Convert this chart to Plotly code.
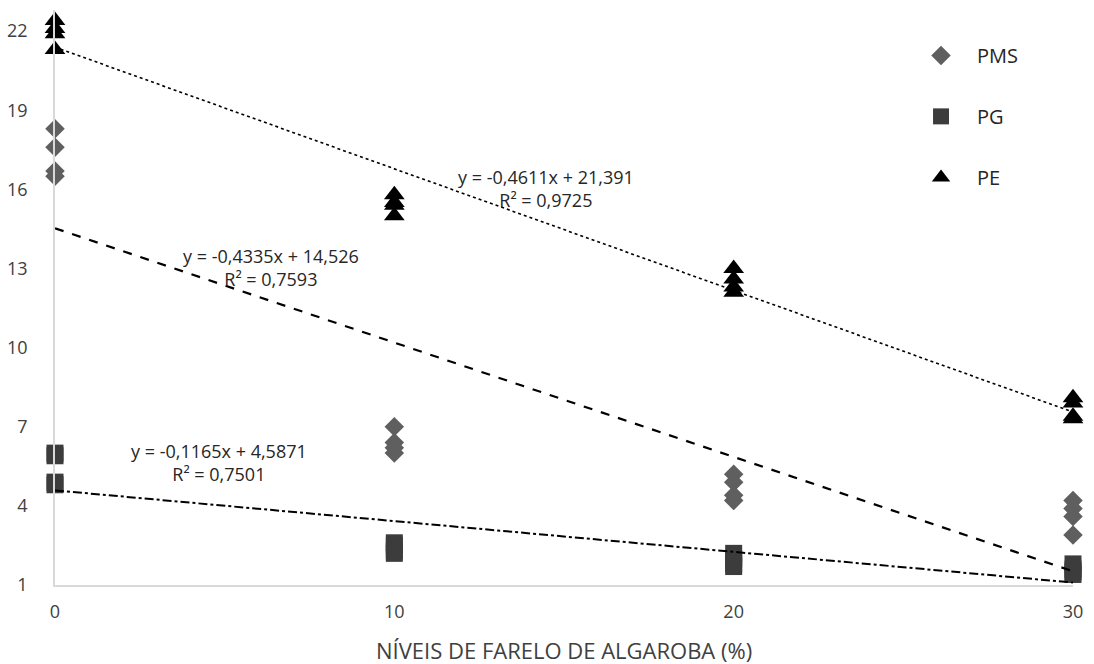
import plotly.graph_objects as go

# Farelo de algaroba inclusion levels (%) and replicate measurements
niveis = [0, 10, 20, 30]

pms = {
    0: [18.3, 17.6, 16.7, 16.5],
    10: [7.0, 6.4, 6.2, 6.0],
    20: [5.2, 4.9, 4.4, 4.2],
    30: [4.2, 3.9, 3.6, 2.9],
}
pg = {
    0: [6.0, 5.9, 4.9, 4.8],
    10: [2.6, 2.5, 2.3, 2.2],
    20: [2.2, 2.0, 1.8, 1.7],
    30: [1.8, 1.6, 1.5, 1.4],
}
pe = {
    0: [22.4, 22.1, 21.9, 21.3],
    10: [15.8, 15.5, 15.4, 15.0],
    20: [13.0, 12.6, 12.3, 12.1],
    30: [8.1, 7.9, 7.4, 7.3],
}

# Linear trend coefficients (slope, intercept, R²)
tend_pms = (-0.4335, 14.526, 0.7593)
tend_pg = (-0.1165, 4.5871, 0.7501)
tend_pe = (-0.4611, 21.391, 0.9725)

y_ticks = [1, 4, 7, 10, 13, 16, 19, 22]
x_ticks = [0, 10, 20, 30]

FONT = "Open Sans, sans-serif"


def flatten(d):
    xs, ys = [], []
    for k in niveis:
        for v in d[k]:
            xs.append(k)
            ys.append(v)
    return xs, ys


fig = go.Figure()

series = [
    ("PMS", pms, "diamond", "#5f5f5f", 15),
    ("PG", pg, "square", "#3c3c3c", 17),
    ("PE", pe, "triangle-up", "#000000", 18),
]
for i, (nome, dados, simb, cor, tam) in enumerate(series):
    xs, ys = flatten(dados)
    fig.add_trace(go.Scatter(
        x=xs, y=ys, mode="markers", name=nome,
        legendgroup=f"g{i}",
        marker=dict(symbol=simb, color=cor, size=tam, line=dict(width=0)),
        cliponaxis=False,
    ))

# Trend lines
for (a, b, _), dash, w in [(tend_pe, "dot", 1.6), (tend_pms, "dash", 2.2), (tend_pg, "dashdot", 2.0)]:
    fig.add_trace(go.Scatter(
        x=[niveis[0], niveis[-1]], y=[a * niveis[0] + b, a * niveis[-1] + b],
        mode="lines", showlegend=False, hoverinfo="skip",
        line=dict(color="#000000", dash=dash, width=w),
    ))


def fmt(v, nd):
    return f"{v:.{nd}f}".replace(".", ",")


def eq_text(a, b, r2, nb):
    return f"y = -{fmt(abs(a), 4)}x + {fmt(b, nb)}<br>R² = {fmt(r2, 4)}"


eq_font = dict(family=FONT, size=18, color="#262626")
for (a, b, r2), nb, (xa, ya) in [
    (tend_pe, 3, (14.47, 16.05)),
    (tend_pms, 3, (6.38, 13.02)),
    (tend_pg, 4, (4.82, 5.66)),
]:
    fig.add_annotation(
        x=xa, y=ya, text=eq_text(a, b, r2, nb), showarrow=False,
        font=eq_font, align="center", xanchor="center", yanchor="middle",
    )

# Axis title placed below the tick labels
fig.add_annotation(
    x=0.5, xref="paper", y=-0.113, yref="paper", yanchor="middle",
    text="NÍVEIS DE FARELO DE ALGAROBA (%)", showarrow=False,
    font=dict(family=FONT, size=22, color="#404040"),
)

fig.update_layout(
    width=1094, height=664,
    margin=dict(l=55, r=21, t=10, b=79),
    plot_bgcolor="white", paper_bgcolor="white",
    font=dict(family=FONT, color="#404040"),
    legend=dict(
        x=0.835, y=0.955, xanchor="left", yanchor="top",
        font=dict(family=FONT, size=20, color="#262626"),
        tracegroupgap=32, itemwidth=62, bgcolor="rgba(0,0,0,0)",
    ),
    xaxis=dict(
        range=[0, 30], tickvals=x_ticks, showgrid=False, zeroline=False,
        showline=True, linecolor="#d9d9d9", linewidth=1.5, ticks="",
        tickfont=dict(family=FONT, size=18, color="#404040"),
        ticklabelstandoff=10, automargin=False,
    ),
    yaxis=dict(
        range=[1, 22.8], tickvals=y_ticks, showgrid=False, zeroline=False,
        showline=True, linecolor="#d9d9d9", linewidth=1.5, ticks="",
        tickfont=dict(family=FONT, size=18, color="#404040"),
        ticklabelstandoff=22, automargin=False,
    ),
)

fig.write_html("out.html")
